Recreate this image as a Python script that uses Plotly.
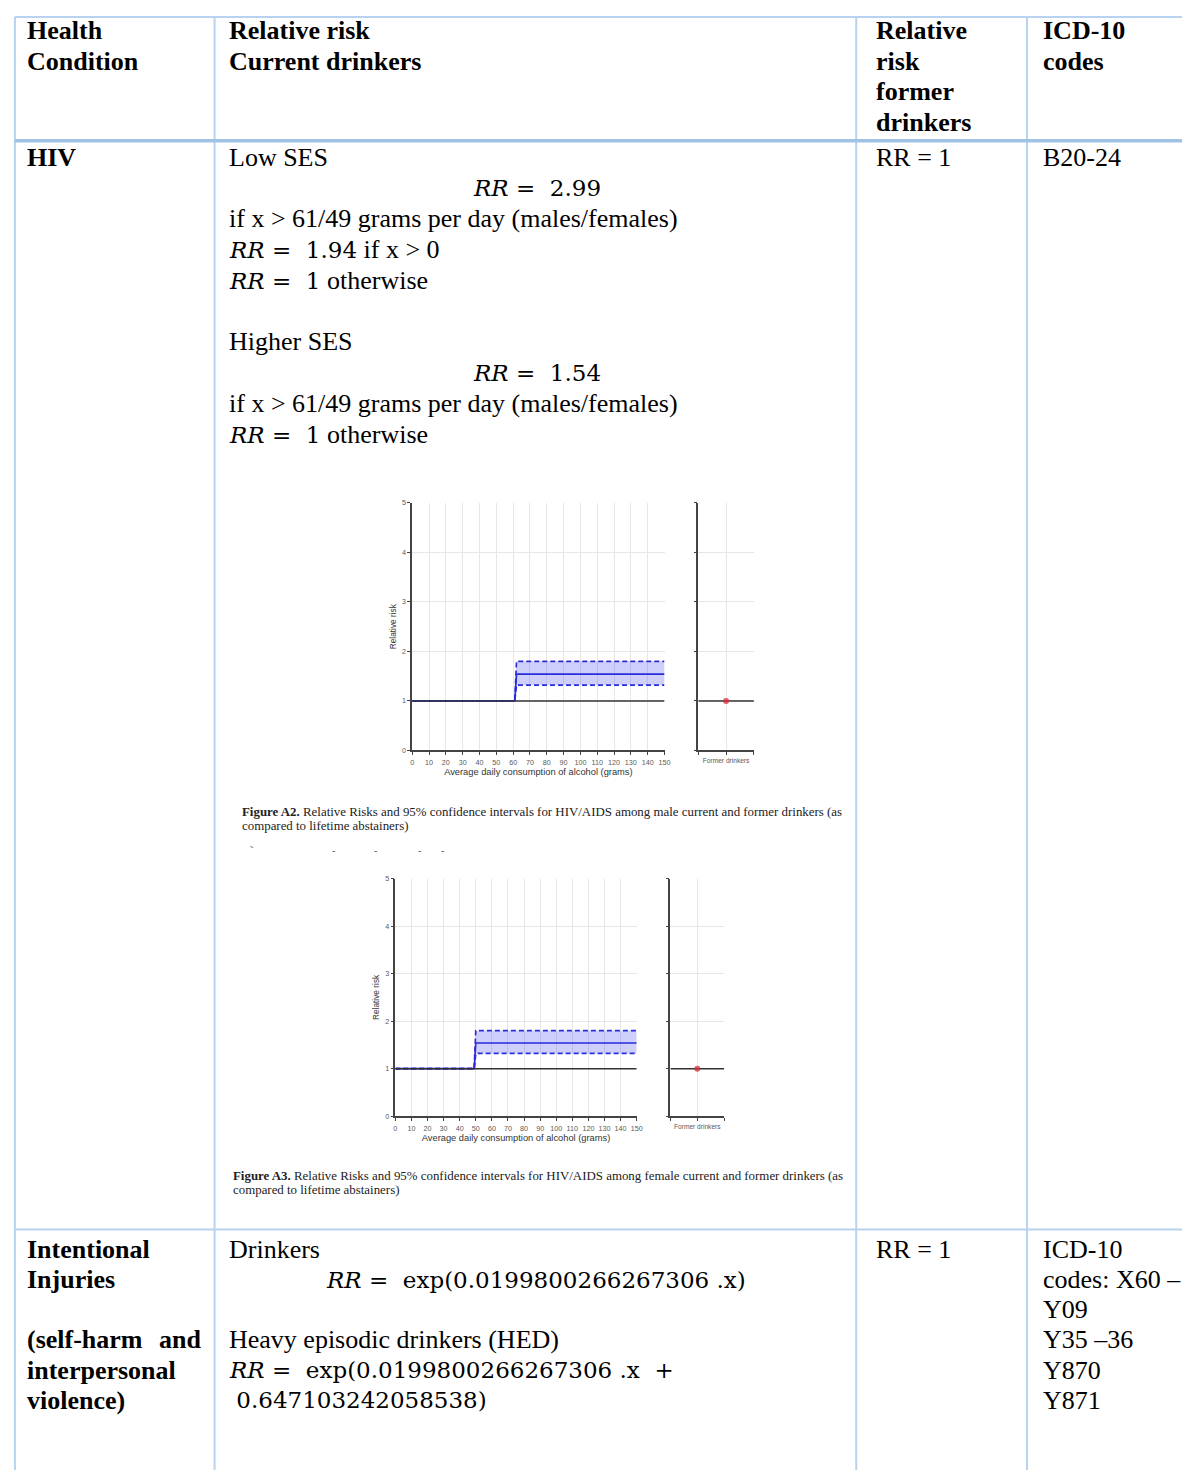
import plotly.graph_objects as go

# ---------------------------------------------------------------------------
# Data
# ---------------------------------------------------------------------------
dose_max = 150                      # grams of alcohol per day
threshold_male = 61                 # step location, males (g/day)
threshold_female = 49               # step location, females (g/day)
rr_point = 1.54                     # relative risk above the threshold
rr_lower = 1.32                     # lower 95% CI
rr_upper = 1.80                     # upper 95% CI
rr_baseline = 1.0                   # reference (lifetime abstainers)
rr_former = 1.0                     # former drinkers
x_ticks = list(range(0, 151, 10))
y_ticks = [0, 1, 2, 3, 4, 5]

header_condition = ["Health", "Condition"]
header_current = ["Relative risk", "Current drinkers"]
header_former = ["Relative", "risk", "former", "drinkers"]
header_icd = ["ICD-10", "codes"]

hiv_condition = "HIV"
hiv_former = "RR = 1"
hiv_icd = "B20-24"
hiv_low_label = "Low SES"
hiv_low_rr = "2.99"
hiv_low_rr_any = "1.94"
hiv_high_label = "Higher SES"
hiv_high_rr = "1.54"
hiv_condition_text = "if x &gt; 61/49 grams per day (males/females)"

caption_a2 = ["<b>Figure A2.</b> Relative Risks and 95% confidence intervals for HIV/AIDS among male current and former drinkers (as",
              "compared to lifetime abstainers)"]
caption_a3 = ["<b>Figure A3.</b> Relative Risks and 95% confidence intervals for HIV/AIDS among female current and former drinkers (as",
              "compared to lifetime abstainers)"]

inj_condition = ["Intentional", "Injuries", "", "(self-harm", "interpersonal", "violence)"]
inj_former = "RR = 1"
inj_icd = ["ICD-10", "codes: X60 \u2013", "Y09", "Y35 \u201336", "Y870", "Y871"]
inj_slope = "0.0199800266267306"
inj_hed_offset = "0.647103242058538"

# ---------------------------------------------------------------------------
# Page geometry helpers (pixels -> paper fractions)
# ---------------------------------------------------------------------------
W, H = 1188, 1475
SERIF = "Liberation Serif"
MATH = "DejaVu Serif"
BODY = 26
LINE = 31.0


def px(x):
    return x / W


def py(y):
    return 1 - y / H


def math(s, size=23):
    return f"<span style='font-family:{MATH};font-size:{size}px'>{s}</span>"


RR = "<i>RR</i>"

annotations = []


def text(x, y, s, bold=False, size=BODY, anchor="left", family=SERIF, color="#000"):
    annotations.append(dict(
        x=px(x), y=py(y), xref="paper", yref="paper", text=(f"<b>{s}</b>" if bold else s),
        showarrow=False, xanchor=anchor, yanchor="middle",
        font=dict(family=family, size=size, color=color), borderpad=0,
    ))


# ---------------------------------------------------------------------------
# Table text
# ---------------------------------------------------------------------------
COL1, COL2, COL3, COL4 = 24, 228, 879, 1047
HDR_Y = 26.5

for i, s in enumerate(header_condition):
    text(COL1, HDR_Y + i * LINE, s, bold=True)
for i, s in enumerate(header_current):
    text(COL2, HDR_Y + i * LINE, s, bold=True)
for i, s in enumerate(header_former):
    text(COL3, HDR_Y + i * LINE, s, bold=True)
for i, s in enumerate(header_icd):
    text(COL4, HDR_Y + i * LINE, s, bold=True)

ROW1 = 154
text(COL1, ROW1, hiv_condition, bold=True)
text(COL3, ROW1, hiv_former)
text(COL4, ROW1, hiv_icd)

text(COL2, ROW1, hiv_low_label)
text(539, ROW1 + LINE, math(f"{RR} =  {hiv_low_rr}"), anchor="center")
text(COL2, ROW1 + 2 * LINE, hiv_condition_text)
text(COL2, ROW1 + 3 * LINE, math(f"{RR} =  {hiv_low_rr_any}") + " if x &gt; 0")
text(COL2, ROW1 + 4 * LINE, math(f"{RR} =  1") + " otherwise")
text(COL2, ROW1 + 6 * LINE, hiv_high_label)
text(539, ROW1 + 7 * LINE, math(f"{RR} =  {hiv_high_rr}"), anchor="center")
text(COL2, ROW1 + 8 * LINE, hiv_condition_text)
text(COL2, ROW1 + 9 * LINE, math(f"{RR} =  1") + " otherwise")

# Figure captions
CAP = 12.9
text(241, 813, caption_a2[0], size=CAP, color="#222")
text(241, 827, caption_a2[1], size=CAP, color="#222")
text(232, 1179, caption_a3[0], size=CAP, color="#222")
text(232, 1193, caption_a3[1], size=CAP, color="#222")

# clipped glyph fragments of a cut-off line
for xm in (252, 334, 376, 420, 443):
    text(xm, 852, "\u02dc" if xm == 252 else "-", size=10, color="#555", anchor="center")

ROW2 = 1253
for i, s in enumerate(inj_condition):
    if s:
        text(COL1, ROW2 + i * 30.4, s, bold=True)
text(201, ROW2 + 3 * 30.4, "and", bold=True, anchor="right")
text(COL3, ROW2, inj_former)
for i, s in enumerate(inj_icd):
    text(COL4, ROW2 + i * 30.4, s)
text(COL2, ROW2, "Drinkers")
text(325, ROW2 + 30.4, math(f"{RR} =  exp({inj_slope} .x)"))
text(COL2, ROW2 + 3 * 30.4, "Heavy episodic drinkers (HED)")
text(COL2, ROW2 + 4 * 30.4, math(f"{RR} =  exp({inj_slope} .x  +"))
text(COL2, ROW2 + 5 * 30.4, math(f" {inj_hed_offset})"))

# ---------------------------------------------------------------------------
# Table rules
# ---------------------------------------------------------------------------
RULE = "#b7d3ef"
RULE_DARK = "#9fc3e7"
shapes = []


def rule(x0, y0, x1, y1, w=2, c=RULE):
    shapes.append(dict(type="line", xref="paper", yref="paper",
                       x0=px(x0), y0=py(y0), x1=px(x1), y1=py(y1),
                       line=dict(color=c, width=w), layer="below"))


rule(13, 13, W, 13)
rule(13, 13, 13, H)
for xd in (214, 860, 1032):
    rule(xd, 13, xd, H)
rule(13, 137.5, W, 137.5, w=3.5, c=RULE_DARK)
rule(13, 1233, W, 1233)

# ---------------------------------------------------------------------------
# Embedded relative-risk charts
# ---------------------------------------------------------------------------
fig = go.Figure()

BLUE = "#2b2bdc"
FILL = "rgba(70,70,240,0.26)"
AXIS = "#444"
GRID = "#e7e7e7"
TICKF = dict(family="Liberation Sans", size=7.2, color="#5a5a5a")


def add_chart(n_main, n_former, threshold, box_main, box_former):
    xm, ym = f"x{n_main}", f"y{n_main}"
    xf, yf = f"x{n_former}", f"y{n_former}"
    step_x = [0, threshold, threshold + 1, dose_max]
    low = [rr_baseline, rr_baseline, rr_lower, rr_lower]
    up = [rr_baseline, rr_baseline, rr_upper, rr_upper]
    mid = [rr_baseline, rr_baseline, rr_point, rr_point]
    dash = dict(color=BLUE, width=1.7, dash="5px,3px")
    fig.add_trace(go.Scatter(x=step_x, y=low, mode="lines", line=dash,
                             xaxis=xm, yaxis=ym, hoverinfo="skip"))
    fig.add_trace(go.Scatter(x=step_x, y=up, mode="lines", line=dash, fill="tonexty",
                             fillcolor=FILL, xaxis=xm, yaxis=ym, hoverinfo="skip"))
    fig.add_trace(go.Scatter(x=step_x, y=mid, mode="lines", line=dict(color=BLUE, width=1.7),
                             xaxis=xm, yaxis=ym))
    fig.add_trace(go.Scatter(x=[0, dose_max], y=[rr_baseline, rr_baseline], mode="lines",
                             line=dict(color="#333", width=1.5), xaxis=xm, yaxis=ym))
    # former drinkers panel
    fig.add_trace(go.Scatter(x=[0, 2], y=[rr_baseline, rr_baseline], mode="lines",
                             line=dict(color="#333", width=1.5), xaxis=xf, yaxis=yf))
    fig.add_trace(go.Scatter(x=[1], y=[rr_former], mode="markers",
                             marker=dict(color="rgba(215,40,60,0.75)", size=6),
                             xaxis=xf, yaxis=yf))

    (mx0, my0, mx1, my1) = box_main
    (fx0, fy0, fx1, fy1) = box_former
    base = dict(showline=True, linecolor=AXIS, linewidth=1.5, ticks="outside", ticklen=3,
                tickcolor=AXIS, tickwidth=1, gridcolor=GRID, gridwidth=1, zeroline=False,
                tickfont=TICKF, fixedrange=True)
    fig.layout[f"xaxis{n_main}"] = dict(
        base, domain=[px(mx0), px(mx1)], anchor=ym, range=[0, dose_max],
        tickvals=x_ticks, ticklabelstandoff=1,
        title=dict(text="Average daily consumption of alcohol (grams)", standoff=3,
                   font=dict(family="Liberation Sans", size=9.3, color="#333")))
    fig.layout[f"yaxis{n_main}"] = dict(
        base, domain=[py(my1), py(my0)], anchor=xm, range=[0, 5], tickvals=y_ticks,
        title=dict(text="Relative risk", standoff=4,
                   font=dict(family="Liberation Sans", size=8.3, color="#333")))
    fig.layout[f"xaxis{n_former}"] = dict(
        base, domain=[px(fx0), px(fx1)], anchor=yf, range=[0, 2], tickvals=[1],
        ticktext=["Former drinkers"], tickfont=dict(family="Liberation Sans", size=6.6, color="#5a5a5a"),
        minor=dict(tickvals=[0, 2], ticks="outside", ticklen=3, tickcolor=AXIS, showgrid=False))
    fig.layout[f"yaxis{n_former}"] = dict(
        base, domain=[py(fy1), py(fy0)], anchor=xf, range=[0, 5], tickvals=y_ticks,
        showticklabels=False)


add_chart("", 2, threshold_male, (413, 502, 667, 751), (701, 502, 757, 751))
add_chart(3, 4, threshold_female, (396, 880, 639, 1119), (673, 880, 727, 1119))

fig.update_layout(
    width=W, height=H, margin=dict(l=0, r=0, t=0, b=0),
    paper_bgcolor="white", plot_bgcolor="white", showlegend=False,
    annotations=annotations, shapes=shapes,
)

fig.write_html("out.html")
